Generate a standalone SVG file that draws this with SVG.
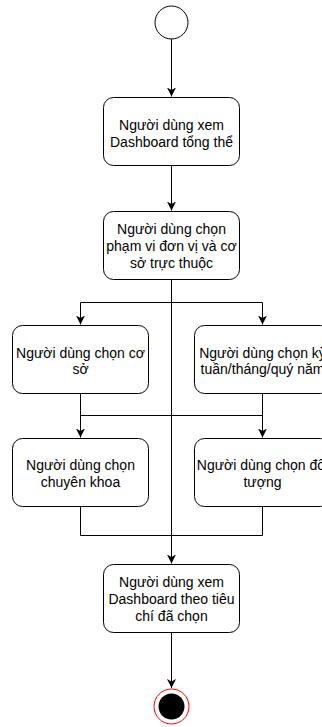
<svg xmlns="http://www.w3.org/2000/svg" width="322" height="727" viewBox="0 0 322 727">
<style>
.box{fill:#ffffff;stroke:#000000;stroke-width:1}
.t{font-family:"Liberation Sans",Arial,Helvetica,sans-serif;font-size:14px;fill:#000000;text-anchor:middle}
.c{fill:none;stroke:#000000;stroke-width:1}
.a{fill:none;stroke:#000000;stroke-width:1;marker-end:url(#arr)}
</style>
<defs>
<marker id="arr" markerWidth="10" markerHeight="10" refX="9" refY="4.5" orient="auto" markerUnits="userSpaceOnUse">
<path d="M0,0 L9,4.5 L0,9 L2.5,4.5 z" fill="#000000"/>
</marker>
</defs>
<rect width="322" height="727" fill="#ffffff"/>
<g id="connectors">
<path class="a" d="M171.5,39 L171.5,96.5"/>
<path class="a" d="M171.5,165.5 L171.5,210.5"/>
<path class="a" d="M171.5,279.5 L171.5,563.5"/>
<path class="c" d="M80.5,302.5 L262.5,302.5"/>
<path class="a" d="M80.5,302.5 L80.5,324.5"/>
<path class="a" d="M262.5,302.5 L262.5,324.5"/>
<path class="c" d="M80.5,393.5 L80.5,415.5 L262.5,415.5 L262.5,393.5"/>
<path class="a" d="M80.5,415.5 L80.5,437.5"/>
<path class="a" d="M262.5,415.5 L262.5,437.5"/>
<path class="c" d="M80.5,506.5 L80.5,535.5 L262.5,535.5 L262.5,506.5"/>
<path class="a" d="M171.5,632.5 L171.5,688"/>
</g>
<g id="start">
<circle cx="171.5" cy="22.5" r="16.5" fill="#ffffff" stroke="#000000" stroke-width="1"/>
</g>
<g id="n1">
<rect class="box" x="103.5" y="97.5" width="136" height="68" rx="10" ry="10"/>
<text class="t" x="171.5" y="130">Người dùng xem</text>
<text class="t" x="171.5" y="147">Dashboard tổng thể</text>
</g>
<g id="n2">
<rect class="box" x="103.5" y="211.5" width="136" height="68" rx="10" ry="10"/>
<text class="t" x="171.5" y="234">Người dùng chọn</text>
<text class="t" x="171.5" y="251">phạm vi đơn vị và cơ</text>
<text class="t" x="171.5" y="268">sở trực thuộc</text>
</g>
<g id="n3">
<rect class="box" x="12.5" y="325.5" width="136" height="68" rx="10" ry="10"/>
<text class="t" x="80.5" y="357.5">Người dùng chọn cơ</text>
<text class="t" x="80.5" y="374">sở</text>
</g>
<g id="n4">
<rect class="box" x="194.5" y="325.5" width="136" height="68" rx="10" ry="10"/>
<text class="t" x="262.5" y="357.5">Người dùng chọn kỳ</text>
<text class="t" x="262.5" y="374">tuần/tháng/quý năm</text>
</g>
<g id="n5">
<rect class="box" x="12.5" y="438.5" width="136" height="68" rx="10" ry="10"/>
<text class="t" x="80.5" y="470">Người dùng chọn</text>
<text class="t" x="80.5" y="486.5">chuyên khoa</text>
</g>
<g id="n6">
<rect class="box" x="194.5" y="438.5" width="136" height="68" rx="10" ry="10"/>
<text class="t" x="262.5" y="470">Người dùng chọn đối</text>
<text class="t" x="262.5" y="486.5">tượng</text>
</g>
<g id="n7">
<rect class="box" x="103.5" y="564.5" width="136" height="68" rx="10" ry="10"/>
<text class="t" x="171.5" y="587">Người dùng xem</text>
<text class="t" x="171.5" y="604">Dashboard theo tiêu</text>
<text class="t" x="171.5" y="621">chí đã chọn</text>
</g>
<g id="end">
<circle cx="171.5" cy="706.5" r="17.5" fill="#ffffff" stroke="#ff0000" stroke-width="1"/>
<circle cx="171.5" cy="706.5" r="13" fill="#000000"/>
</g>
</svg>
